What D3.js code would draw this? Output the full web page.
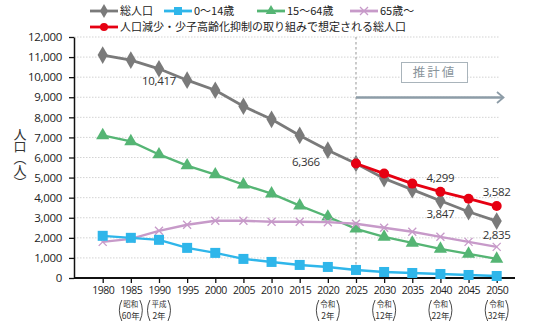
<!DOCTYPE html>
<html>
<head>
<meta charset="utf-8">
<script src="https://cdn.jsdelivr.net/npm/d3@7"></script>
<style>
  body { margin: 0; background: #fff; }
  svg text { font-family: "Noto Sans CJK JP", "Noto Sans", sans-serif; }
</style>
</head>
<body>
<script>
// data
const years = [1980, 1985, 1990, 1995, 2000, 2005, 2010, 2015, 2020, 2025, 2030, 2035, 2040, 2045, 2050];
const total = [11100, 10850, 10417, 9850, 9350, 8550, 7900, 7100, 6366, 5700, 4950, 4400, 3847, 3300, 2835];
const age0to14 = [2100, 2000, 1900, 1500, 1250, 950, 800, 650, 550, 400, 300, 250, 200, 150, 100];
const age15to64 = [7100, 6800, 6150, 5600, 5150, 4650, 4200, 3600, 3050, 2450, 2050, 1750, 1450, 1200, 950];
const age65plus = [1800, 1950, 2350, 2650, 2850, 2850, 2800, 2800, 2780, 2700, 2500, 2300, 2050, 1800, 1550];
const targetYears = [2025, 2030, 2035, 2040, 2045, 2050];
const target = [5700, 5200, 4700, 4299, 3950, 3582];
const yTicks = [0, 1000, 2000, 3000, 4000, 5000, 6000, 7000, 8000, 9000, 10000, 11000, 12000];
const eraLabels = {1985: ["昭和", "60年"], 1990: ["平成", "2年"], 2020: ["令和", "2年"],
                   2030: ["令和", "12年"], 2040: ["令和", "22年"], 2050: ["令和", "32年"]};
const seriesNames = ["総人口", "0〜14歳", "15〜64歳", "65歳〜"];
const targetName = "人口減少・少子高齢化抑制の取り組みで想定される総人口";

const W = 545, H = 326;
const svg = d3.select("body").append("svg").attr("width", W).attr("height", H);

const x = d3.scaleLinear().domain([1980, 2050]).range([102.7, 496.7]);
const y = d3.scaleLinear().domain([0, 12000]).range([278, 37]);
const fmt = d3.format(",");

//gridlines
svg.append("g").selectAll("line")
    .data(yTicks.filter(d => d > 0))
    .enter().append("line")
    .attr("x1", 74).attr("x2", 500)
    .attr("y1", d => y(d)).attr("y2", d => y(d))
    .attr("stroke", "#c8c8c8").attr("stroke-width", 0.8)
    .attr("stroke-dasharray", "1.5,1.5");

//estimate divider
svg.append("line")
    .attr("x1", x(2025)).attr("x2", x(2025))
    .attr("y1", 37).attr("y2", 278)
    .attr("stroke", "#a8a8a8").attr("stroke-width", 1.2)
    .attr("stroke-dasharray", "2.5,2.5");

//y axis
const yAxis = svg.append("g")
    .attr("transform", "translate(74,0)")
    .call(d3.axisLeft(y).tickValues(yTicks).tickFormat(fmt).tickSize(5).tickSizeOuter(0));
yAxis.select(".domain").attr("stroke", "#111").attr("stroke-width", 1.5);
yAxis.selectAll(".tick line").attr("stroke", "#111").attr("stroke-width", 1.3);
yAxis.selectAll(".tick text")
    .attr("x", -12)
    .style("font-size", "11.5px").style("fill", "#222")
    .style("font-family", "'Open Sans', sans-serif").style("letter-spacing", "-0.3px");

//x axis
const xAxis = svg.append("g")
    .attr("transform", "translate(0,278)")
    .call(d3.axisBottom(x).tickValues(years).tickFormat(d => d).tickSize(5).tickSizeOuter(0));
xAxis.select(".domain").attr("d", "M74,0H515").attr("stroke", "#111").attr("stroke-width", 1.8);
xAxis.selectAll(".tick line").attr("stroke", "#111").attr("stroke-width", 1.3);
xAxis.selectAll(".tick text")
    .attr("y", 9)
    .style("font-size", "10.5px").style("fill", "#222")
    .style("font-family", "'Open Sans', sans-serif").style("letter-spacing", "-0.5px");

//era labels under the years
const era = svg.append("g").selectAll("g")
    .data(Object.keys(eraLabels).map(Number))
    .enter().append("g")
    .attr("transform", d => "translate(" + x(d) + ",0)");
era.append("text").attr("y", 307).attr("text-anchor", "middle")
    .style("font-size", "7.5px").style("fill", "#333").text(d => eraLabels[d][0]);
era.append("text").attr("y", 318.5).attr("text-anchor", "middle")
    .style("font-size", "8.5px").style("fill", "#333").text(d => eraLabels[d][1]);
era.append("path")
    .attr("d", "M-9,300 Q-14,310 -9,321")
    .attr("fill", "none").attr("stroke", "#333").attr("stroke-width", 0.9);
era.append("path")
    .attr("d", "M9,300 Q14,310 9,321")
    .attr("fill", "none").attr("stroke", "#333").attr("stroke-width", 0.9);

//y title
svg.append("text")
    .attr("x", 20).attr("y", 128)
    .attr("writing-mode", "vertical-rl")
    .style("font-size", "13px").style("fill", "#333")
    .style("letter-spacing", "-1px")
    .text("人口（人）");

//estimate box and arrow
svg.append("rect")
    .attr("x", 401.5).attr("y", 62.5).attr("width", 66).attr("height", 20)
    .attr("fill", "#fff").attr("stroke", "#a9b4bb").attr("stroke-width", 1);
svg.append("text")
    .attr("x", 434.5).attr("y", 77).attr("text-anchor", "middle")
    .style("font-size", "12.5px").style("fill", "#8a959c").style("letter-spacing", "2px")
    .text("推計値");
svg.append("line")
    .attr("x1", x(2025)).attr("x2", 503).attr("y1", 97.5).attr("y2", 97.5)
    .attr("stroke", "#8d9ca7").attr("stroke-width", 2.5);
svg.append("path")
    .attr("d", "M497,92 L503.5,97.5 L497,103")
    .attr("fill", "none").attr("stroke", "#8d9ca7").attr("stroke-width", 1.8);

//markers
function marker(sel, kind, color, s) {
    if (kind === "diamond") {
        sel.append("path").attr("d", d3.symbol(d3.symbolDiamond, s * s * 0.9)())
            .attr("fill", color);
    } else if (kind === "square") {
        sel.append("rect").attr("x", -s / 2).attr("y", -s / 2).attr("width", s).attr("height", s)
            .attr("fill", color);
    } else if (kind === "triangle") {
        sel.append("path").attr("d", d3.symbol(d3.symbolTriangle, s * s * 0.75)())
            .attr("fill", color);
    } else if (kind === "cross") {
        sel.append("path").attr("d", "M" + (-s / 2) + "," + (-s / 2) + "L" + (s / 2) + "," + (s / 2) +
            "M" + (s / 2) + "," + (-s / 2) + "L" + (-s / 2) + "," + (s / 2))
            .attr("stroke", color).attr("stroke-width", 1.3);
    } else {
        sel.append("circle").attr("r", s / 2).attr("fill", color);
    }
}

const series = [
    { xs: years, v: age15to64, color: "#55b574", kind: "triangle", size: 10, w: 2.4 },
    { xs: years, v: age65plus, color: "#c79ac9", kind: "cross", size: 8, w: 2.4 },
    { xs: years, v: age0to14, color: "#2fb6ea", kind: "square", size: 10, w: 2.4 },
    { xs: years, v: total, color: "#7a7a7a", kind: "diamond", size: 10, w: 2.8 },
    { xs: targetYears, v: target, color: "#e60012", kind: "circle", size: 10, w: 2.8 }
];

const line = d3.line().x(d => x(d[0])).y(d => y(d[1]));

series.forEach(function (s) {
    const pts = s.xs.map((yr, i) => [yr, s.v[i]]);
    svg.append("path").datum(pts)
        .attr("d", line)
        .attr("fill", "none").attr("stroke", s.color).attr("stroke-width", s.w);
    const g = svg.append("g").selectAll("g")
        .data(pts).enter().append("g")
        .attr("transform", d => "translate(" + x(d[0]) + "," + y(d[1]) + ")");
    marker(g, s.kind, s.color, s.size);
});

//value labels
const labels = [
    { yr: 1990, v: total[2], dx: 0, dy: 16, anchor: "middle" },
    { yr: 2020, v: total[8], dx: -8, dy: 16, anchor: "end" },
    { yr: 2040, v: total[12], dx: 0, dy: 17, anchor: "middle" },
    { yr: 2050, v: total[14], dx: 0, dy: 18, anchor: "middle" },
    { yr: 2040, v: target[3], dx: 0, dy: -10, anchor: "middle" },
    { yr: 2050, v: target[5], dx: 0, dy: -10, anchor: "middle" }
];
svg.append("g").selectAll("text")
    .data(labels).enter().append("text")
    .attr("x", d => x(d.yr) + d.dx)
    .attr("y", d => y(d.v) + d.dy)
    .attr("text-anchor", d => d.anchor)
    .style("font-size", "11.5px").style("fill", "#333")
    .style("font-family", "'Open Sans', sans-serif").style("letter-spacing", "-0.3px")
    .text(d => fmt(d.v));

//legend
const legendItems = [
    { name: seriesNames[0], color: "#7a7a7a", kind: "diamond", lx: 90, ly: 11 },
    { name: seriesNames[1], color: "#2fb6ea", kind: "square", lx: 164, ly: 11 },
    { name: seriesNames[2], color: "#55b574", kind: "triangle", lx: 257, ly: 11 },
    { name: seriesNames[3], color: "#c79ac9", kind: "cross", lx: 350, ly: 11 },
    { name: targetName, color: "#e60012", kind: "circle", lx: 90, ly: 27 }
];
const leg = svg.append("g").selectAll("g")
    .data(legendItems).enter().append("g")
    .attr("transform", d => "translate(" + d.lx + "," + d.ly + ")");
leg.append("line").attr("x1", 0).attr("x2", 28).attr("y1", 0).attr("y2", 0)
    .attr("stroke", d => d.color).attr("stroke-width", 2.8);
leg.each(function (d) {
    const m = d3.select(this).append("g").attr("transform", "translate(14,0)");
    marker(m, d.kind, d.color, 8);
});
leg.append("text").attr("x", 30).attr("y", 4)
    .style("font-size", "11px").style("fill", "#222")
    .text(d => d.name);
</script>
</body>
</html>
